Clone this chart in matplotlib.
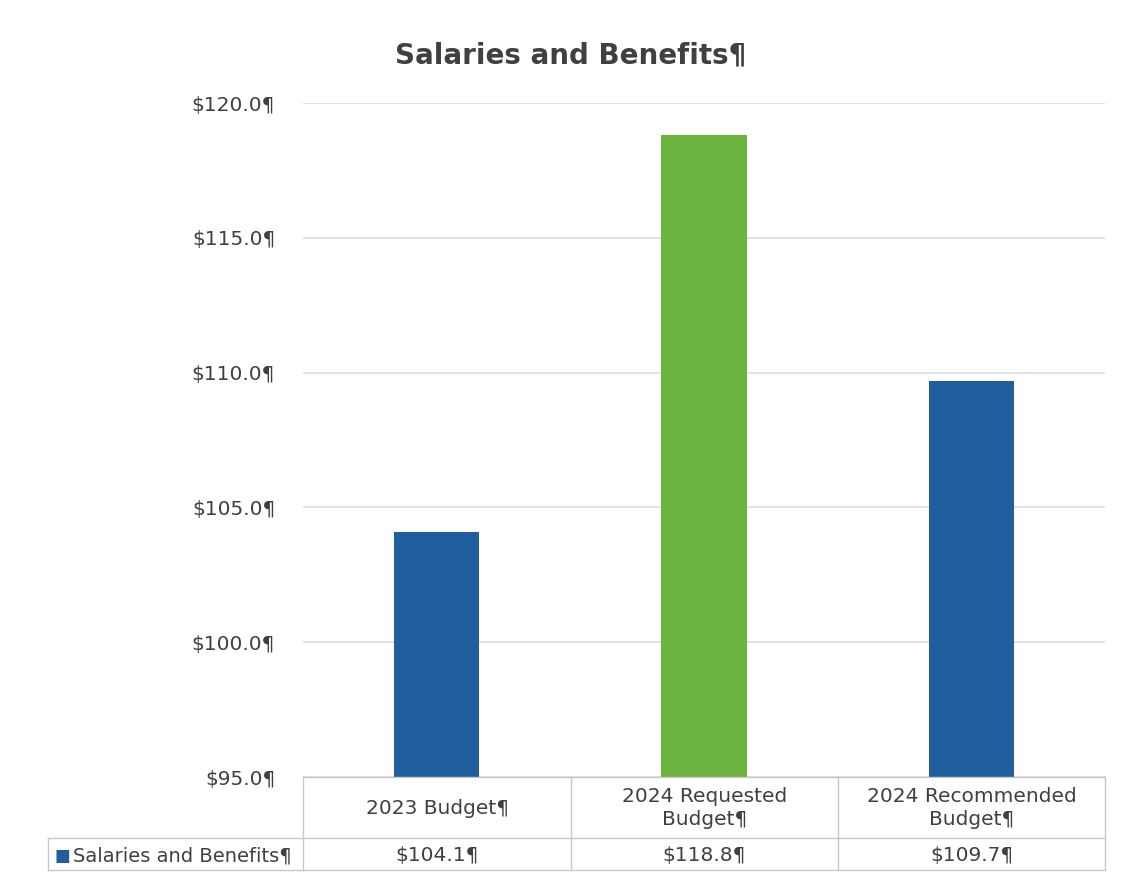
import matplotlib.pyplot as plt
from matplotlib.lines import Line2D

# data (millions)
categories = ["2023 Budget¶", "2024 Requested\nBudget¶", "2024 Recommended\nBudget¶"]
values = [104.1, 118.8, 109.7]
value_labels = ["$104.1¶", "$118.8¶", "$109.7¶"]
series_name = "Salaries and Benefits¶"
yticks = [95, 100, 105, 110, 115, 120]
ytick_labels = ["$95.0¶", "$100.0¶", "$105.0¶", "$110.0¶", "$115.0¶", "$120.0¶"]

BLUE = "#1f5f9e"
GREEN = "#6cb43f"
TXT = "#404040"
bar_colors = [BLUE, GREEN, BLUE]

plt.rcParams['font.family'] = ['DejaVu Sans']

W, H = 1131, 874
fig = plt.figure(figsize=(W / 100, H / 100), dpi=100)
fig.patch.set_facecolor("white")

# axes box in pixels: left 303, right 1105, top 103, bottom 777
ax = fig.add_axes([303 / W, (H - 777) / H, 802 / W, 674 / H])
x = list(range(len(categories)))
ax.bar(x, [v - 95 for v in values], bottom=95, width=0.32, color=bar_colors, zorder=3)
ax.set_xlim(-0.5, 2.5)
ax.set_ylim(95, 120)
ax.set_yticks(yticks)
ax.set_yticklabels(ytick_labels, fontsize=14.5, color=TXT)
ax.tick_params(axis='y', length=0, pad=20)
ax.set_xticks([])
ax.grid(axis='y', color="#dcdcdc", lw=1.2, zorder=0)
for s in ax.spines.values():
    s.set_visible(False)

fig.text(571 / W, 1 - 55 / H, "Salaries and Benefits¶", ha='center', va='center',
         fontsize=20, fontweight='bold', color=TXT)

# data table under the axis
def fx(px):
    return px / W

def fy(py):
    return 1 - py / H

lc = "#c8c8c8"
col_edges = [303, 571, 838, 1105]
for xe in col_edges:
    fig.add_artist(Line2D([fx(xe), fx(xe)], [fy(777), fy(870)], color=lc, lw=1))
fig.add_artist(Line2D([fx(303), fx(1105)], [fy(777), fy(777)], color=lc, lw=1))
fig.add_artist(Line2D([fx(48), fx(1105)], [fy(838), fy(838)], color=lc, lw=1))
fig.add_artist(Line2D([fx(48), fx(1105)], [fy(870), fy(870)], color=lc, lw=1))
fig.add_artist(Line2D([fx(48), fx(48)], [fy(838), fy(870)], color=lc, lw=1))

for i, (cat, lab) in enumerate(zip(categories, value_labels)):
    cx = fx((col_edges[i] + col_edges[i + 1]) / 2)
    fig.text(cx, fy(808), cat, ha='center', va='center', fontsize=14.5,
             color=TXT, linespacing=1.3)
    fig.text(cx, fy(856), lab, ha='center', va='center', fontsize=14.5, color=TXT)

fig.text(fx(55), fy(856), "■", ha='left', va='center', fontsize=12, color=BLUE)
fig.text(fx(73), fy(856), series_name, ha='left', va='center', fontsize=14, color=TXT)

fig.savefig("out.png", dpi=100)
